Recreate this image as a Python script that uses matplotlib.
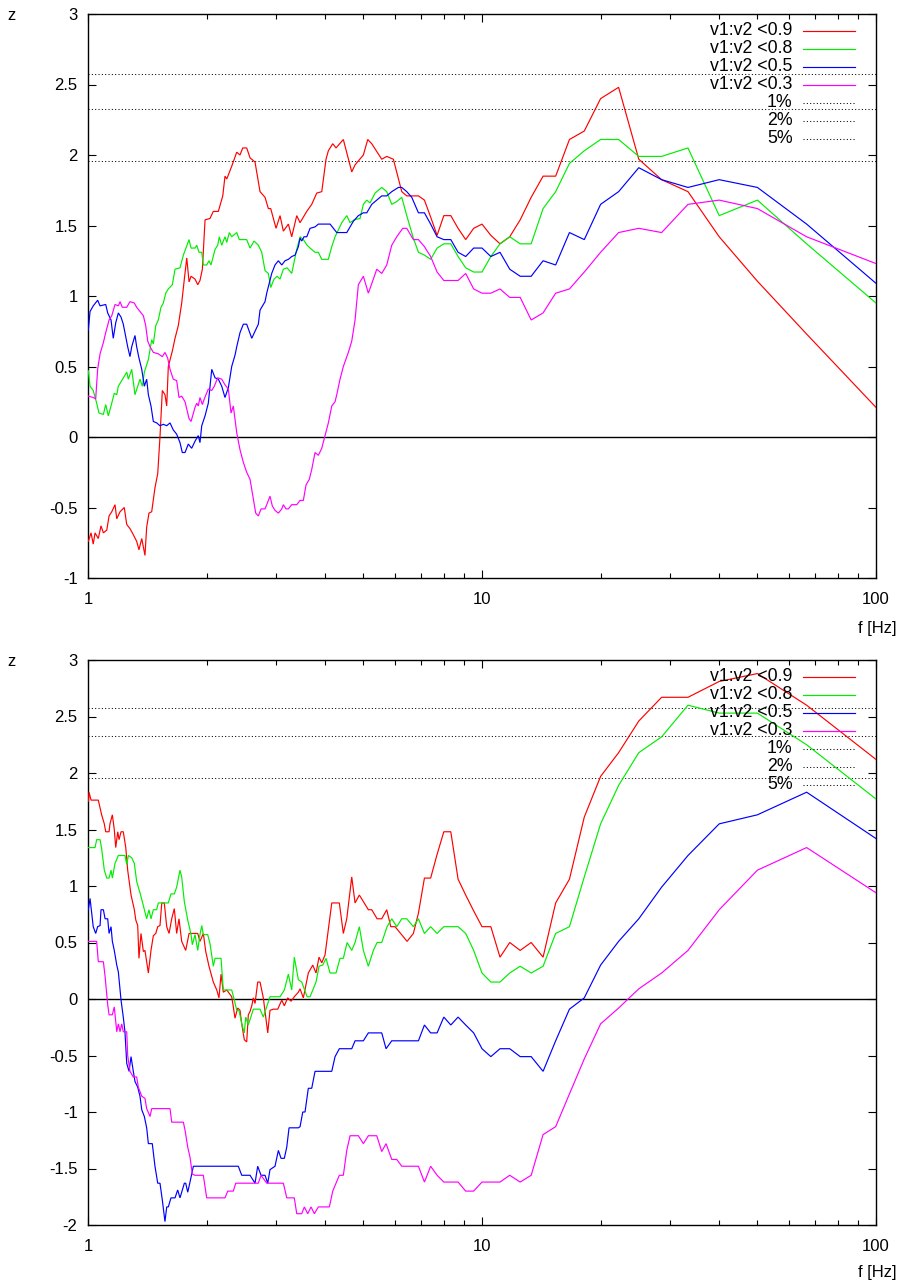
import matplotlib
matplotlib.use("Agg")
import matplotlib.pyplot as plt
from matplotlib.ticker import FixedLocator, NullFormatter

plt.rcParams['font.family'] = ['Liberation Sans', 'DejaVu Sans']
plt.rcParams['axes.unicode_minus'] = False

# ---------------- data ----------------
# common high-frequency grid (Hz)
f_hi = [6.897, 7.143, 7.407, 7.692, 8.0, 8.333, 8.696, 9.091, 9.524, 10.0, 10.53, 11.11,
        11.76, 12.5, 13.33, 14.29, 15.38, 16.67, 18.18, 20.0, 22.22, 25.0, 28.57, 33.33,
        40.0, 50.0, 66.67, 100.0]

# ---- upper panel ----
top_red_lo = [(1.002,-0.74),(1.018,-0.68),(1.031,-0.76),(1.042,-0.68),(1.062,-0.72),(1.079,-0.63),
    (1.094,-0.68),(1.116,-0.66),(1.131,-0.56),(1.149,-0.53),(1.171,-0.48),(1.183,-0.58),(1.206,-0.53),
    (1.236,-0.50),(1.254,-0.62),(1.278,-0.65),(1.296,-0.68),(1.329,-0.74),(1.347,-0.80),(1.369,-0.72),
    (1.395,-0.84),(1.409,-0.64),(1.428,-0.54),(1.451,-0.53),(1.479,-0.36),(1.503,-0.26),(1.523,0.0),
    (1.544,0.33),(1.568,0.30),(1.584,0.22),(1.599,0.50),(1.637,0.61),(1.663,0.70),(1.695,0.79),
    (1.729,0.95),(1.756,1.12),(1.781,1.27),(1.805,1.10),(1.826,1.14),(1.869,1.12),(1.899,1.08),
    (1.924,1.11),(1.951,1.19),(1.982,1.54),(2.040,1.55),(2.080,1.60),(2.142,1.60),(2.198,1.71),
    (2.227,1.85),(2.250,1.83),(2.316,1.92),(2.385,2.02),(2.431,2.00),(2.470,2.05),(2.528,2.05),
    (2.578,1.98),(2.654,1.95),(2.733,1.74),(2.814,1.70),(2.869,1.62),(2.909,1.62),(3.001,1.48),
    (3.072,1.57),(3.132,1.46),(3.225,1.51),(3.289,1.42),(3.387,1.57),(3.453,1.52),(3.591,1.60),
    (3.697,1.65),(3.807,1.73),(3.920,1.74),(4.019,1.97),(4.074,2.03),(4.180,2.08),(4.261,2.05),
    (4.447,2.11),(4.671,1.88),(4.762,1.93),(4.999,2.00),(5.129,2.11),(5.250,2.08),(5.566,1.97),
    (5.731,1.99),(5.957,1.97),(6.257,1.74),(6.442,1.71)]
top_red_hi = [1.71,1.68,1.56,1.43,1.57,1.57,1.48,1.40,1.48,1.51,1.43,1.37,1.42,1.54,1.70,1.85,
    1.85,2.11,2.17,2.40,2.48,1.97,1.825,1.74,1.42,1.105,0.73,0.21]

top_green_lo = [(1.002,0.47),(1.012,0.36),(1.031,0.33),(1.052,0.24),(1.066,0.17),(1.094,0.16),
    (1.109,0.23),(1.126,0.15),(1.144,0.22),(1.166,0.31),(1.183,0.30),(1.194,0.36),(1.236,0.43),
    (1.254,0.46),(1.266,0.41),(1.291,0.48),(1.316,0.30),(1.355,0.41),(1.374,0.36),(1.390,0.46),
    (1.423,0.55),(1.451,0.69),(1.465,0.66),(1.486,0.79),(1.508,0.83),(1.532,0.92),(1.553,0.95),
    (1.575,1.02),(1.599,1.05),(1.637,1.08),(1.663,1.19),(1.712,1.20),(1.746,1.29),(1.805,1.40),
    (1.826,1.34),(1.869,1.34),(1.888,1.36),(1.913,1.31),(1.944,1.31),(1.962,1.22),(2.001,1.22),
    (2.028,1.25),(2.052,1.22),(2.101,1.33),(2.134,1.36),(2.154,1.42),(2.185,1.36),(2.227,1.42),
    (2.250,1.38),(2.284,1.45),(2.316,1.42),(2.385,1.45),(2.421,1.40),(2.528,1.40),(2.578,1.34),
    (2.639,1.39),(2.706,1.36),(2.760,1.31),(2.814,1.18),(2.869,1.16),(2.909,1.06),(2.966,1.12),
    (3.019,1.14),(3.072,1.12),(3.132,1.19),(3.201,1.20),(3.289,1.16),(3.334,1.24),(3.387,1.33),
    (3.453,1.42),(3.520,1.40),(3.598,1.36),(3.661,1.34),(3.769,1.31),(3.843,1.31),(3.920,1.26),
    (4.074,1.26),(4.156,1.35),(4.237,1.42),(4.406,1.52),(4.537,1.57),(4.625,1.52),(4.734,1.54),
    (4.903,1.55),(4.999,1.65),(5.099,1.68),(5.198,1.66),(5.353,1.73),(5.566,1.77),(5.731,1.74),
    (5.901,1.65),(6.076,1.67),(6.257,1.70),(6.442,1.57),(6.696,1.41)]
top_green_hi = [1.31,1.29,1.26,1.34,1.37,1.37,1.28,1.20,1.17,1.17,1.28,1.37,1.42,1.37,1.37,1.62,
    1.74,1.94,2.03,2.11,2.11,1.99,1.99,2.05,1.57,1.68,1.37,0.95]

top_blue_lo = [(1.002,0.76),(1.012,0.89),(1.031,0.93),(1.058,0.97),(1.073,0.93),(1.109,0.94),
    (1.122,0.88),(1.144,0.83),(1.159,0.70),(1.176,0.81),(1.194,0.88),(1.213,0.85),(1.229,0.80),
    (1.241,0.74),(1.261,0.64),(1.278,0.57),(1.291,0.64),(1.316,0.72),(1.329,0.64),(1.347,0.56),
    (1.369,0.48),(1.390,0.36),(1.409,0.41),(1.423,0.30),(1.445,0.22),(1.465,0.11),(1.494,0.10),
    (1.523,0.08),(1.553,0.09),(1.584,0.08),(1.615,0.10),(1.646,0.05),(1.679,0.02),(1.712,-0.04),
    (1.735,-0.11),(1.763,-0.11),(1.797,-0.05),(1.833,-0.08),(1.869,-0.03),(1.905,0.01),(1.924,-0.04),
    (1.944,0.08),(1.982,0.15),(2.020,0.24),(2.061,0.48),(2.101,0.42),(2.142,0.41),(2.185,0.36),
    (2.227,0.28),(2.271,0.35),(2.316,0.50),(2.361,0.58),(2.385,0.64),(2.431,0.74),(2.479,0.80),
    (2.528,0.80),(2.604,0.70),(2.654,0.75),(2.706,0.80),(2.733,0.90),(2.814,0.96),(2.842,1.02),
    (2.926,1.16),(2.983,1.22),(3.042,1.25),(3.103,1.22),(3.163,1.25),(3.225,1.26),(3.289,1.28),
    (3.353,1.29),(3.419,1.35),(3.453,1.41),(3.487,1.39),(3.534,1.42),(3.591,1.42),(3.661,1.48),
    (3.769,1.49),(3.843,1.51),(4.115,1.51),(4.279,1.45),(4.537,1.45),(4.715,1.53),(4.855,1.57),
    (4.999,1.59),(5.099,1.59),(5.250,1.65),(5.406,1.68),(5.566,1.71),(5.731,1.71),(5.901,1.74),
    (6.134,1.77),(6.257,1.77),(6.442,1.74),(6.633,1.70)]
top_blue_hi = [1.59,1.59,1.51,1.42,1.40,1.40,1.31,1.28,1.34,1.34,1.28,1.31,1.19,1.14,1.14,1.25,
    1.22,1.45,1.40,1.65,1.74,1.91,1.825,1.77,1.825,1.77,1.51,1.09]

top_pink_lo = [(1.002,0.29),(1.031,0.28),(1.046,0.27),(1.058,0.48),(1.073,0.59),(1.094,0.67),
    (1.109,0.74),(1.131,0.83),(1.149,0.86),(1.171,0.94),(1.194,0.93),(1.206,0.96),(1.222,0.92),
    (1.254,0.92),(1.278,0.96),(1.311,0.95),(1.329,0.92),(1.355,0.89),(1.382,0.86),(1.401,0.79),
    (1.418,0.68),(1.437,0.64),(1.465,0.60),(1.508,0.59),(1.544,0.57),(1.568,0.60),(1.593,0.56),
    (1.615,0.48),(1.646,0.41),(1.679,0.40),(1.702,0.28),(1.729,0.29),(1.763,0.25),(1.805,0.13),
    (1.826,0.11),(1.869,0.21),(1.888,0.24),(1.905,0.22),(1.924,0.28),(1.951,0.23),(1.973,0.27),
    (2.020,0.34),(2.061,0.33),(2.092,0.36),(2.134,0.42),(2.185,0.41),(2.227,0.37),(2.271,0.34),
    (2.307,0.17),(2.338,0.22),(2.385,0.03),(2.431,-0.09),(2.479,-0.18),(2.528,-0.25),(2.578,-0.30),
    (2.628,-0.44),(2.665,-0.54),(2.706,-0.56),(2.749,-0.51),(2.814,-0.51),(2.859,-0.46),(2.897,-0.42),
    (2.937,-0.49),(2.983,-0.52),(3.042,-0.54),(3.103,-0.51),(3.132,-0.48),(3.181,-0.51),(3.225,-0.51),
    (3.289,-0.48),(3.387,-0.48),(3.453,-0.45),(3.520,-0.45),(3.576,-0.34),(3.645,-0.30),(3.697,-0.23),
    (3.769,-0.11),(3.843,-0.13),(3.920,-0.08),(3.996,0.01),(4.074,0.10),(4.156,0.22),(4.237,0.25),
    (4.287,0.31),(4.362,0.41),(4.447,0.50),(4.579,0.60),(4.671,0.68),(4.762,0.83),(4.855,1.08),
    (4.999,1.14),(5.147,1.02),(5.300,1.12),(5.406,1.19),(5.566,1.16),(5.731,1.22),(5.901,1.36),
    (6.076,1.42),(6.293,1.48),(6.442,1.48),(6.696,1.40)]
top_pink_hi = [1.40,1.35,1.28,1.17,1.11,1.11,1.11,1.16,1.05,1.02,1.02,1.05,0.99,0.99,0.83,0.88,
    1.02,1.05,1.17,1.31,1.45,1.48,1.45,1.65,1.68,1.62,1.42,1.23]

# ---- lower panel ----
bot_red_lo = [(1.003,1.75),(1.006,1.83),(1.018,1.76),(1.062,1.76),(1.083,1.63),(1.100,1.55),
    (1.109,1.48),(1.131,1.48),(1.137,1.55),(1.153,1.63),(1.166,1.50),(1.176,1.34),(1.190,1.48),
    (1.199,1.41),(1.213,1.48),(1.229,1.48),(1.247,1.34),(1.261,1.14),(1.286,0.92),(1.311,0.79),
    (1.322,0.70),(1.337,0.65),(1.347,0.36),(1.363,0.58),(1.382,0.42),(1.395,0.43),(1.423,0.23),
    (1.445,0.43),(1.465,0.56),(1.486,0.58),(1.503,0.64),(1.523,0.65),(1.539,0.85),(1.562,0.85),
    (1.584,0.64),(1.606,0.58),(1.631,0.71),(1.656,0.80),(1.679,0.58),(1.702,0.71),(1.729,0.51),
    (1.770,0.43),(1.805,0.58),(1.899,0.58),(1.924,0.51),(1.962,0.58),(1.990,0.42),(2.028,0.29),
    (2.080,0.15),(2.122,0.08),(2.150,0.01),(2.176,0.22),(2.205,0.06),(2.250,0.08),(2.316,0.02),
    (2.338,-0.07),(2.361,-0.17),(2.399,-0.08),(2.431,-0.10),(2.456,-0.22),(2.493,-0.36),(2.528,-0.38),
    (2.552,-0.14),(2.578,-0.11),(2.604,-0.06),(2.628,0.01),(2.654,-0.04),(2.696,0.15),(2.733,0.15),
    (2.786,0.01),(2.859,-0.30),(2.897,-0.10),(2.954,-0.09),(3.031,-0.09),(3.103,-0.01),(3.150,-0.06),
    (3.213,0.01),(3.276,-0.02),(3.339,0.02),(3.419,0.06),(3.453,0.09),(3.520,0.01),(3.624,0.23),
    (3.719,0.30),(3.791,0.23),(3.858,0.37),(3.920,0.32),(3.996,0.39),(4.156,0.85),(4.344,0.85),
    (4.447,0.58),(4.537,0.71),(4.671,1.08),(4.762,0.85),(4.883,0.92),(5.147,0.79),(5.250,0.79),
    (5.417,0.71),(5.566,0.71),(5.731,0.79),(5.867,0.64),(6.016,0.64),(6.455,0.51),(6.696,0.58)]
bot_red_hi = [0.76,1.07,1.07,1.28,1.48,1.48,1.06,0.92,0.78,0.64,0.64,0.37,0.50,0.43,0.50,0.37,
    0.85,1.06,1.61,1.97,2.18,2.46,2.67,2.67,2.81,2.88,2.60,2.12]

bot_green_lo = [(1.002,1.34),(1.042,1.34),(1.052,1.41),(1.073,1.41),(1.083,1.33),(1.100,1.14),
    (1.116,1.07),(1.131,1.07),(1.144,1.14),(1.153,1.07),(1.171,1.20),(1.194,1.27),(1.241,1.27),
    (1.254,1.19),(1.266,1.27),(1.291,1.25),(1.311,1.20),(1.329,1.04),(1.342,0.99),(1.355,0.94),
    (1.374,0.86),(1.395,0.77),(1.409,0.71),(1.428,0.79),(1.445,0.71),(1.465,0.79),(1.494,0.79),
    (1.508,0.85),(1.599,0.85),(1.624,0.93),(1.656,0.93),(1.679,0.99),(1.712,1.14),(1.729,1.08),
    (1.756,0.86),(1.791,0.70),(1.826,0.57),(1.840,0.48),(1.869,0.57),(1.899,0.43),(1.924,0.57),
    (1.944,0.65),(1.962,0.57),(2.013,0.57),(2.040,0.49),(2.080,0.29),(2.101,0.36),(2.176,0.36),
    (2.205,0.08),(2.316,0.08),(2.352,-0.01),(2.385,-0.10),(2.417,-0.10),(2.456,-0.22),(2.493,-0.30),
    (2.514,-0.16),(2.552,-0.23),(2.628,-0.09),(2.733,-0.09),(2.786,-0.16),(2.897,0.02),(3.072,0.02),
    (3.150,0.08),(3.225,0.22),(3.289,0.08),(3.339,0.37),(3.419,0.17),(3.487,0.15),(3.598,0.02),
    (3.661,0.02),(3.791,0.15),(3.858,0.29),(3.943,0.30),(4.019,0.36),(4.115,0.23),(4.261,0.23),
    (4.362,0.36),(4.447,0.36),(4.546,0.50),(4.671,0.43),(4.762,0.50),(4.883,0.64),(4.999,0.43),
    (5.147,0.29),(5.300,0.43),(5.417,0.50),(5.566,0.50),(5.743,0.64),(5.901,0.71),(6.076,0.64),
    (6.257,0.71),(6.442,0.71),(6.696,0.64)]
bot_green_hi = [0.71,0.58,0.64,0.58,0.64,0.64,0.64,0.58,0.43,0.23,0.15,0.15,0.23,0.29,0.23,0.29,
    0.58,0.64,1.08,1.55,1.89,2.18,2.32,2.60,2.53,2.53,2.25,1.77]

bot_blue_lo = [(1.002,0.79),(1.012,0.89),(1.031,0.64),(1.046,0.58),(1.058,0.64),(1.073,0.65),
    (1.079,0.79),(1.094,0.79),(1.105,0.71),(1.122,0.71),(1.131,0.58),(1.144,0.64),(1.153,0.51),
    (1.166,0.43),(1.183,0.30),(1.194,0.24),(1.213,-0.01),(1.229,-0.16),(1.241,-0.29),(1.254,-0.57),
    (1.271,-0.64),(1.286,-0.51),(1.303,-0.64),(1.316,-0.73),(1.337,-0.78),(1.355,-0.86),(1.369,-0.98),
    (1.390,-1.04),(1.409,-1.14),(1.423,-1.28),(1.456,-1.28),(1.479,-1.48),(1.503,-1.63),(1.523,-1.63),
    (1.544,-1.78),(1.568,-1.97),(1.584,-1.84),(1.599,-1.84),(1.624,-1.76),(1.663,-1.76),(1.689,-1.69),
    (1.712,-1.76),(1.729,-1.71),(1.756,-1.63),(1.770,-1.63),(1.791,-1.71),(1.815,-1.62),(1.851,-1.48),
    (2.407,-1.48),(2.456,-1.56),(2.578,-1.56),(2.654,-1.63),(2.696,-1.48),(2.749,-1.56),(2.814,-1.56),
    (2.859,-1.63),(2.897,-1.51),(2.983,-1.48),(3.042,-1.34),(3.090,-1.41),(3.150,-1.41),(3.195,-1.31),
    (3.238,-1.14),(3.419,-1.14),(3.453,-1.13),(3.508,-1.00),(3.555,-1.00),(3.624,-0.79),(3.697,-0.79),
    (3.769,-0.64),(4.156,-0.64),(4.237,-0.51),(4.344,-0.44),(4.671,-0.44),(4.762,-0.37),(4.999,-0.37),
    (5.147,-0.30),(5.566,-0.30),(5.708,-0.44),(5.901,-0.37)]
bot_blue_hi = [-0.37,-0.23,-0.30,-0.30,-0.16,-0.23,-0.16,-0.23,-0.30,-0.44,-0.51,-0.44,-0.44,-0.51,
    -0.51,-0.64,-0.37,-0.09,0.01,0.30,0.51,0.71,0.99,1.27,1.55,1.63,1.83,1.42]

bot_pink_lo = [(1.002,0.51),(1.052,0.51),(1.062,0.33),(1.094,0.33),(1.105,0.20),(1.122,-0.05),
    (1.131,-0.14),(1.153,-0.14),(1.166,-0.07),(1.183,-0.29),(1.194,-0.22),(1.206,-0.29),(1.218,-0.22),
    (1.229,-0.29),(1.254,-0.29),(1.261,-0.50),(1.278,-0.64),(1.303,-0.69),(1.329,-0.69),(1.342,-0.78),
    (1.369,-0.86),(1.395,-0.88),(1.409,-0.97),(1.437,-1.04),(1.451,-0.97),(1.615,-0.97),(1.631,-1.09),
    (1.746,-1.09),(1.763,-1.16),(1.791,-1.31),(1.815,-1.40),(1.840,-1.55),(1.869,-1.56),(1.962,-1.56),
    (2.001,-1.76),(2.227,-1.76),(2.263,-1.70),(2.338,-1.70),(2.371,-1.63),(2.706,-1.63),(2.749,-1.56),
    (2.842,-1.63),(3.132,-1.63),(3.195,-1.76),(3.339,-1.76),(3.387,-1.90),(3.487,-1.90),(3.541,-1.84),
    (3.612,-1.90),(3.682,-1.84),(3.754,-1.90),(3.843,-1.84),(4.098,-1.84),(4.180,-1.70),(4.344,-1.56),
    (4.447,-1.56),(4.537,-1.34),(4.625,-1.21),(4.855,-1.21),(4.999,-1.28),(5.147,-1.21),(5.406,-1.21),
    (5.566,-1.35),(5.708,-1.28),(5.901,-1.42),(6.076,-1.42),(6.257,-1.48)]
bot_pink_hi = [-1.48,-1.62,-1.48,-1.56,-1.62,-1.62,-1.62,-1.70,-1.70,-1.62,-1.62,-1.62,-1.56,-1.62,
    -1.56,-1.20,-1.13,-0.84,-0.53,-0.22,-0.08,0.09,0.23,0.43,0.79,1.14,1.34,0.94]

series_labels = ["v1:v2 <0.9", "v1:v2 <0.8", "v1:v2 <0.5", "v1:v2 <0.3"]
level_labels = ["1%", "2%", "5%"]
level_values = [2.576, 2.326, 1.960]

x_ticks = [1, 10, 100]
x_ticklabels = ["1", "10", "100"]
x_minor = [2, 3, 4, 5, 6, 7, 8, 9, 20, 30, 40, 50, 60, 70, 80, 90]
top_yticks = [-1, -0.5, 0, 0.5, 1, 1.5, 2, 2.5, 3]
top_yticklabels = ["-1", "-0.5", "0", "0.5", "1", "1.5", "2", "2.5", "3"]
bot_yticks = [-2, -1.5, -1, -0.5, 0, 0.5, 1, 1.5, 2, 2.5, 3]
bot_yticklabels = ["-2", "-1.5", "-1", "-0.5", "0", "0.5", "1", "1.5", "2", "2.5", "3"]

# ---------------- style ----------------
COLORS = ['#ff0000', '#00ee00', '#0000ff', '#ff00ff']
LW = 0.85
DOT = (0, (1.0, 2.2))
FS = 12
FS_KEY = 12.8

W, H = 899, 1281
fig = plt.figure(figsize=(W / 100, H / 100), dpi=100)


def px_axes(l, t, r, b):
    return fig.add_axes([l / W, 1 - b / H, (r - l) / W, (b - t) / H])


def build(ax, lo_list, hi_list, ylim, yticks, yticklabels, ax_h_px):
    ax.set_xscale('log')
    ax.set_xlim(1, 100)
    ax.set_ylim(*ylim)
    ax.axhline(0, color='black', lw=1.0, zorder=1)
    for lo, hi, c in zip(lo_list, hi_list, COLORS):
        xs = [p[0] for p in lo] + f_hi
        ys = [p[1] for p in lo] + hi
        ax.plot(xs, ys, color=c, lw=LW, zorder=3, solid_joinstyle='miter')
    for v in level_values:
        ax.axhline(v, color='black', lw=0.75, ls=DOT, zorder=2)

    ax.xaxis.set_major_locator(FixedLocator(x_ticks))
    ax.xaxis.set_minor_locator(FixedLocator(x_minor))
    ax.set_xticklabels(x_ticklabels)
    ax.xaxis.set_minor_formatter(NullFormatter())
    ax.set_yticks(yticks)
    ax.set_yticklabels(yticklabels)
    ax.tick_params(which='both', direction='in', top=True, right=True, width=0.8,
                   labelsize=FS, colors='black')
    ax.tick_params(which='major', length=5.8)
    ax.tick_params(which='minor', length=3.6)
    ax.tick_params(axis='x', which='major', pad=10)
    ax.tick_params(axis='y', which='major', pad=7.5)
    for s in ax.spines.values():
        s.set_linewidth(1.0)
        s.set_color('black')

    # gnuplot-style key (text right-aligned, sample to the right)
    names = series_labels + level_labels
    styles = [dict(color=c, lw=LW, ls='-') for c in COLORS] + \
             [dict(color='black', lw=0.75, ls=DOT)] * 3
    x_txt = (792.5 - 88) / 788
    x0, x1 = (803 - 88) / 788, (855 - 88) / 788
    for i, (nm, st) in enumerate(zip(names, styles)):
        yy = 1 - (16.5 + 18 * i) / ax_h_px
        ax.text(x_txt, yy, nm, transform=ax.transAxes, ha='right', va='center',
                fontsize=FS_KEY, zorder=5)
        ax.plot([x0, x1], [yy, yy], transform=ax.transAxes, clip_on=False, zorder=5, **st)


ax1 = px_axes(88, 14, 876, 578)
ax2 = px_axes(88, 660, 876, 1225)

build(ax1, [top_red_lo, top_green_lo, top_blue_lo, top_pink_lo],
      [top_red_hi, top_green_hi, top_blue_hi, top_pink_hi],
      (-1, 3), top_yticks, top_yticklabels, 564)
build(ax2, [bot_red_lo, bot_green_lo, bot_blue_lo, bot_pink_lo],
      [bot_red_hi, bot_green_hi, bot_blue_hi, bot_pink_hi],
      (-2, 3), bot_yticks, bot_yticklabels, 565)

fig.text(12 / W, 1 - 15 / H, 'z', ha='center', va='center', fontsize=FS)
fig.text(12 / W, 1 - 661 / H, 'z', ha='center', va='center', fontsize=FS)
fig.text(897 / W, 1 - 628 / H, 'f [Hz]', ha='right', va='center', fontsize=FS)
fig.text(897 / W, 1 - 1272 / H, 'f [Hz]', ha='right', va='center', fontsize=FS)

fig.savefig('out.png', dpi=100, facecolor='white')
